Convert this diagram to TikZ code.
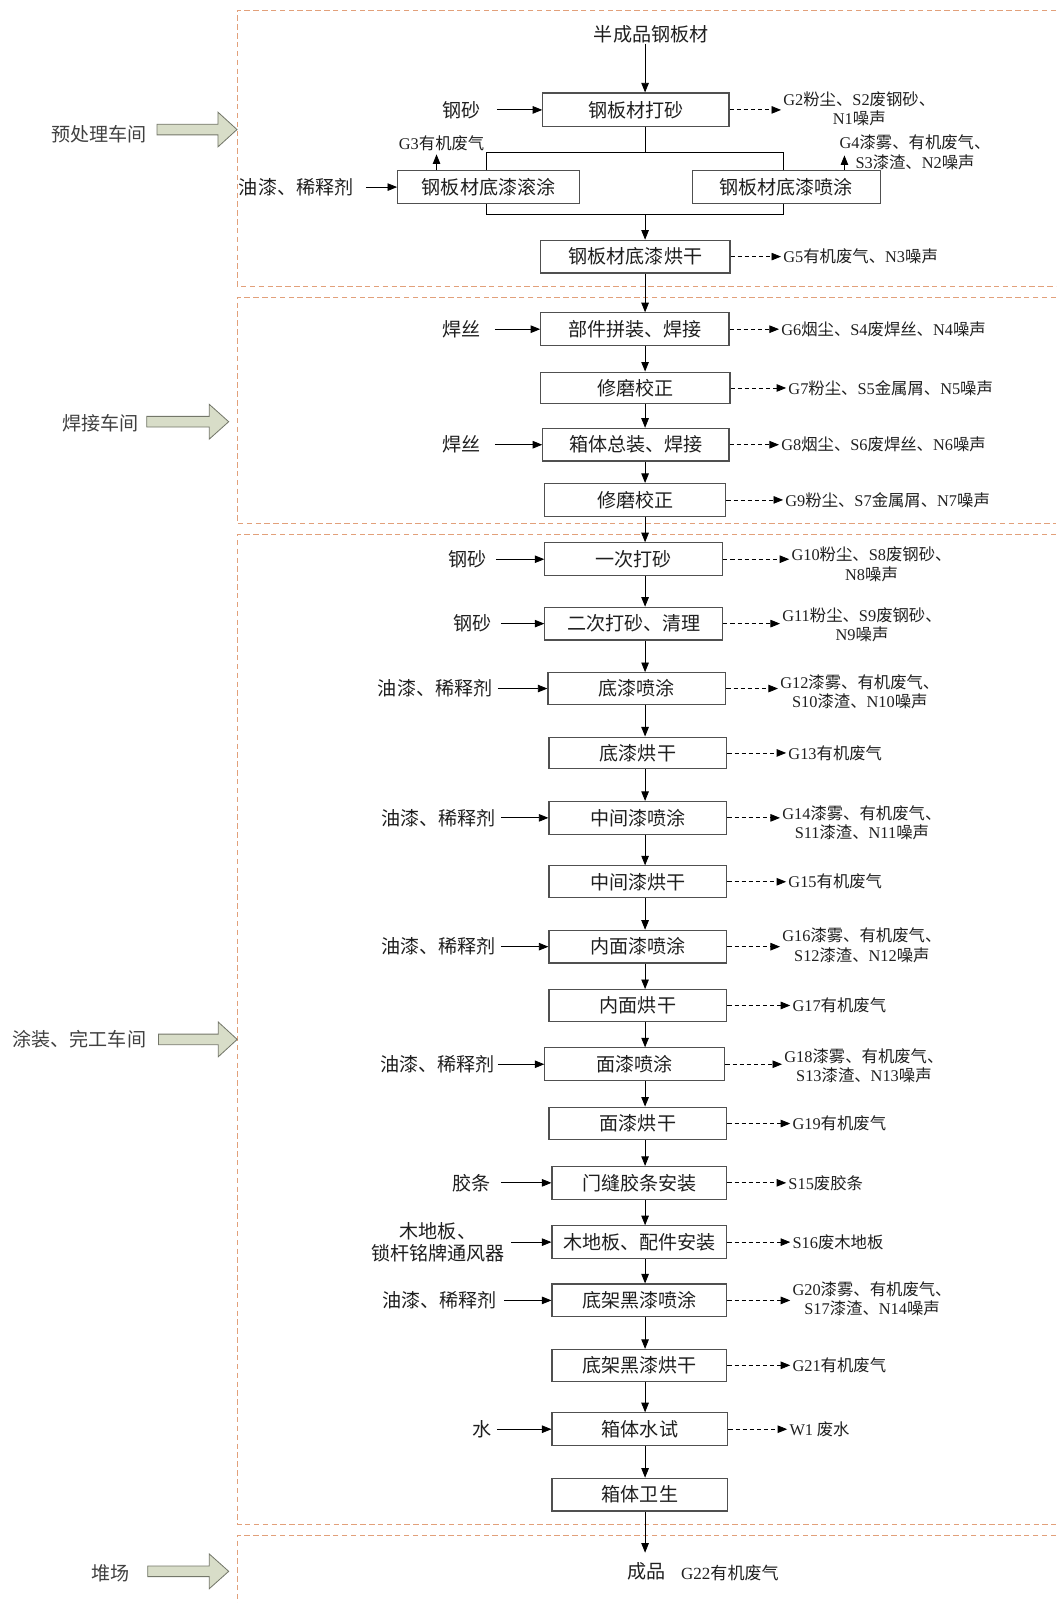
\documentclass[tikz,border=0pt]{standalone}
\usepackage{fontspec}
\setmainfont{Noto Sans CJK SC}
\newfontfamily\latf{Liberation Serif}
\usetikzlibrary{arrows.meta,calc}
\definecolor{frameC}{RGB}{226,160,122}
\definecolor{barF}{RGB}{216,221,200}
\definecolor{barD}{RGB}{115,118,105}
\definecolor{boxD}{RGB}{80,80,80}
\newcommand\LL[1]{{\latf #1}}
\newcommand\procbox[6]{\node[proc, minimum width={(#4-#2)*0.75pt}, minimum height={(#5-#3)*0.75pt}] (#1) at ({(#2+#4)/2},{(#3+#5)/2}) {#6};}
\newcommand\bigarrow[4]{\draw[blk] ({#1},{#4-5.2}) -- ({#2},{#4-5.2}) -- ({#2},{#4-17}) -- ({#3},{#4}) -- ({#2},{#4+17}) -- ({#2},{#4+5.2}) -- ({#1},{#4+5.2}) -- cycle;}
\tikzset{
 proc/.style={draw=boxD, line width=0.85pt, inner sep=0pt, font=\fontsize{14}{16}\selectfont, text=black!88},
 inlab/.style={inner sep=0pt, font=\fontsize{14}{16.5}\selectfont, align=center, text=black!88},
 outlab/.style={inner sep=1.5pt, anchor=west, font=\fontsize{12}{14.2}\selectfont, align=center, text=black!88},
 arr/.style={line width=0.6pt, -{Triangle[length=7pt,width=5.5pt]}},
 darr/.style={line width=0.6pt, dash pattern=on 3pt off 2.2pt, -{Triangle[length=7pt,width=5.5pt]}},
 plain/.style={line width=0.6pt},
 frm/.style={draw=frameC, line width=0.7pt, dash pattern=on 4pt off 2.5pt},
 wslab/.style={inner sep=0pt, font=\fontsize{14}{16}\selectfont, text=black!75},
 blk/.style={fill=barF, draw=barD, line width=0.6pt},
}
\begin{document}
\begin{tikzpicture}[x=0.75pt,y=-0.75pt]
\useasboundingbox (0,0) rectangle (1033,1568);
% frames
\draw[frm] (1033,10) -- (232,10) -- (232,280) -- (1033,280);
\draw[frm] (1033,291) -- (232,291) -- (232,512) -- (1033,512);
\draw[frm] (1033,523) -- (232,523) -- (232,1491) -- (1033,1491);
\draw[frm] (1033,1502) -- (232,1502) -- (232,1568);
% workshop labels and block arrows
\node[wslab] (ws1) at (97,131) {预处理车间};
\bigarrow{153.6}{213.2}{231.8}{126.7}
\node[wslab] (ws2) at (98.4,413.5) {焊接车间};
\bigarrow{143.5}{204.7}{223.7}{412.5}
\node[wslab] (ws3) at (77.6,1016.7) {涂装、完工车间};
\bigarrow{155}{213.5}{232}{1016.7}
\node[wslab] (ws4) at (108,1539) {堆场};
\bigarrow{144.5}{204.7}{223.7}{1537}
% main axis
\coordinate (mx) at (631,0);
% boxes
\procbox{b1}{531}{91}{713}{124}{钢板材打砂}
\procbox{b2}{389}{167}{567}{199}{钢板材底漆滚涂}
\procbox{b3}{677}{167}{861}{199}{钢板材底漆喷涂}
\procbox{b4}{529}{235}{714}{267}{钢板材底漆烘干}
\procbox{b5}{529}{306}{713}{338}{部件拼装、焊接}
\procbox{b6}{529}{364}{714}{395}{修磨校正}
\procbox{b7}{531}{419}{713}{451}{箱体总装、焊接}
\procbox{b8}{533}{473}{710}{505}{修磨校正}
\procbox{b9}{533}{531}{707}{563}{一次打砂}
\procbox{b10}{533}{594}{707}{626}{二次打砂、清理}
\procbox{b11}{536}{658}{710}{689}{底漆喷涂}
\procbox{b12}{537}{721}{711}{752}{底漆烘干}
\procbox{b13}{537}{784}{711}{816}{中间漆喷涂}
\procbox{b14}{537}{847}{711}{878}{中间漆烘干}
\procbox{b15}{537}{910}{711}{942}{内面漆喷涂}
\procbox{b16}{537}{968}{711}{999}{内面烘干}
\procbox{b17}{533}{1025}{709}{1057}{面漆喷涂}
\procbox{b18}{537}{1083}{711}{1115}{面漆烘干}
\procbox{b19}{540}{1141}{711}{1173}{门缝胶条安装}
\procbox{b20}{540}{1199}{711}{1231}{木地板、配件安装}
\procbox{b21}{540}{1256}{711}{1288}{底架黑漆喷涂}
\procbox{b22}{540}{1320}{711}{1351}{底架黑漆烘干}
\procbox{b23}{540}{1382}{712}{1414}{箱体水试}
\procbox{b24}{540}{1446}{712}{1478}{箱体卫生}
% top input and final product
\node[inlab] (top) at (637,34) {半成品钢板材};
\node[inlab] (cp) at (632,1537) {成品};
\node[outlab, font=\fontsize{12.5}{14}\selectfont] (g22) at (664,1539) {\LL{G22}有机废气};
% main flow
\draw[arr] (top.south -| mx) -- (b1.north -| mx);
\coordinate (bar1l) at (476,149);
\coordinate (bar1r) at (766,149);
\coordinate (bar2l) at (476,210);
\coordinate (bar2r) at (766,210);
\draw[plain] (b1.south -| mx) -- (mx |- bar1l);
\draw[plain] (b2.north -| bar1l) -- (bar1l) -- (bar1r) -- (b3.north -| bar1r);
\draw[plain] (b2.south -| bar2l) -- (bar2l) -- (bar2r) -- (b3.south -| bar2r);
\draw[arr] (mx |- bar2l) -- (b4.north -| mx);
\foreach \a/\b in {b4/b5,b5/b6,b6/b7,b7/b8,b8/b9,b9/b10,b10/b11,b11/b12,b12/b13,b13/b14,b14/b15,b15/b16,b16/b17,b17/b18,b18/b19,b19/b20,b20/b21,b21/b22,b22/b23,b23/b24}
  \draw[arr] (\a.south -| mx) -- (\b.north -| mx);
\draw[arr, shorten >=7pt] (b24.south -| mx) -- (mx |- cp.north);
% inputs
\node[inlab, anchor=east] (i1) at (470,107.5) {钢砂};
\draw[arr] (i1.east) ++(16,0) -- (b1.west);
\node[inlab, anchor=east] (i2) at (346,183) {油漆、稀释剂};
\draw[arr] (i2.east) ++(12,0) -- (b2.west);
\node[inlab, anchor=east] (i5) at (470,322) {焊丝};
\draw[arr] (i5.east) ++(14,0) -- (b5.west);
\node[inlab, anchor=east] (i7) at (470,435) {焊丝};
\draw[arr] (i7.east) ++(14,0) -- (b7.west);
\node[inlab, anchor=east] (i9) at (476,547) {钢砂};
\draw[arr] (i9.east) ++(9,0) -- (b9.west);
\node[inlab, anchor=east] (i10) at (481,610) {钢砂};
\draw[arr] (i10.east) ++(9,0) -- (b10.west);
\node[inlab, anchor=east] (i11) at (482,673.5) {油漆、稀释剂};
\draw[arr] (i11.east) ++(5,0) -- (b11.west);
\node[inlab, anchor=east] (i13) at (485,800) {油漆、稀释剂};
\draw[arr] (i13.east) ++(5,0) -- (b13.west);
\node[inlab, anchor=east] (i15) at (485,926) {油漆、稀释剂};
\draw[arr] (i15.east) ++(5,0) -- (b15.west);
\node[inlab, anchor=east] (i17) at (484,1041) {油漆、稀释剂};
\draw[arr] (i17.east) ++(3,0) -- (b17.west);
\node[inlab, anchor=east] (i19) at (480,1157) {胶条};
\draw[arr] (i19.east) ++(10,0) -- (b19.west);
\node[inlab, anchor=east] (i20) at (494,1215) {木地板、\\锁杆铭牌通风器};
\draw[arr] (i20.east) ++(6,0) -- (b20.west);
\node[inlab, anchor=east] (i21) at (486,1272) {油漆、稀释剂};
\draw[arr] (i21.east) ++(7,0) -- (b21.west);
\node[inlab, anchor=east] (i23) at (481,1398) {水};
\draw[arr] (i23.east) ++(5,0) -- (b23.west);
% upward emissions
\node[outlab, anchor=center] (g3) at (432,140) {\LL{G3}有机废气};
\coordinate (g3a) at (427,151);
\draw[arr] (b2.north -| g3a) -- (g3a);
\node[outlab] (g4) at (819,149) {\LL{G4}漆雾、有机废气、\\\LL{S3}漆渣、\LL{N2}噪声};
\coordinate (g4a) at (826,152);
\draw[arr] (b3.north -| g4a) -- (g4a);
% outputs
\node[outlab] (o1) at (764,106.5) {\LL{G2}粉尘、\LL{S2}废钢砂、\\\LL{N1}噪声};
\draw[darr] (b1.east) -- (b1.east -| o1.west);
\node[outlab] (o4) at (764,251) {\LL{G5}有机废气、\LL{N3}噪声};
\draw[darr] (b4.east) -- (o4.west);
\node[outlab] (o5) at (762,322) {\LL{G6}烟尘、\LL{S4}废焊丝、\LL{N4}噪声};
\draw[darr] (b5.east) -- (o5.west);
\node[outlab] (o6) at (769,379.5) {\LL{G7}粉尘、\LL{S5}金属屑、\LL{N5}噪声};
\draw[darr] (b6.east) -- (o6.west);
\node[outlab] (o7) at (762,435) {\LL{G8}烟尘、\LL{S6}废焊丝、\LL{N6}噪声};
\draw[darr] (b7.east) -- (o7.west);
\node[outlab] (o8) at (766,489) {\LL{G9}粉尘、\LL{S7}金属屑、\LL{N7}噪声};
\draw[darr] (b8.east) -- (o8.west);
\node[outlab] (o9) at (772,552) {\LL{G10}粉尘、\LL{S8}废钢砂、\\\LL{N8}噪声};
\draw[darr] (b9.east) -- (b9.east -| o9.west);
\node[outlab] (o10) at (763,611) {\LL{G11}粉尘、\LL{S9}废钢砂、\\\LL{N9}噪声};
\draw[darr] (b10.east) -- (b10.east -| o10.west);
\node[outlab] (o11) at (761,676.5) {\LL{G12}漆雾、有机废气、\\\LL{S10}漆渣、\LL{N10}噪声};
\draw[darr] (b11.east) -- (b11.east -| o11.west);
\node[outlab] (o12) at (769,736.5) {\LL{G13}有机废气};
\draw[darr] (b12.east) -- (o12.west);
\node[outlab] (o13) at (763,805) {\LL{G14}漆雾、有机废气、\\\LL{S11}漆渣、\LL{N11}噪声};
\draw[darr] (b13.east) -- (b13.east -| o13.west);
\node[outlab] (o14) at (769,862.5) {\LL{G15}有机废气};
\draw[darr] (b14.east) -- (o14.west);
\node[outlab] (o15) at (763,924.5) {\LL{G16}漆雾、有机废气、\\\LL{S12}漆渣、\LL{N12}噪声};
\draw[darr] (b15.east) -- (b15.east -| o15.west);
\node[outlab] (o16) at (773,983.5) {\LL{G17}有机废气};
\draw[darr] (b16.east) -- (o16.west);
\node[outlab] (o17) at (765,1042.5) {\LL{G18}漆雾、有机废气、\\\LL{S13}漆渣、\LL{N13}噪声};
\draw[darr] (b17.east) -- (b17.east -| o17.west);
\node[outlab] (o18) at (773,1099) {\LL{G19}有机废气};
\draw[darr] (b18.east) -- (o18.west);
\node[outlab] (o19) at (769,1157) {\LL{S15}废胶条};
\draw[darr] (b19.east) -- (o19.west);
\node[outlab] (o20) at (773,1215) {\LL{S16}废木地板};
\draw[darr] (b20.east) -- (o20.west);
\node[outlab] (o21) at (773,1270.5) {\LL{G20}漆雾、有机废气、\\\LL{S17}漆渣、\LL{N14}噪声};
\draw[darr] (b21.east) -- (b21.east -| o21.west);
\node[outlab] (o22) at (773,1335.5) {\LL{G21}有机废气};
\draw[darr] (b22.east) -- (o22.west);
\node[outlab] (o23) at (770,1398) {\LL{W1} 废水};
\draw[darr] (b23.east) -- (o23.west);
\end{tikzpicture}
\end{document}
